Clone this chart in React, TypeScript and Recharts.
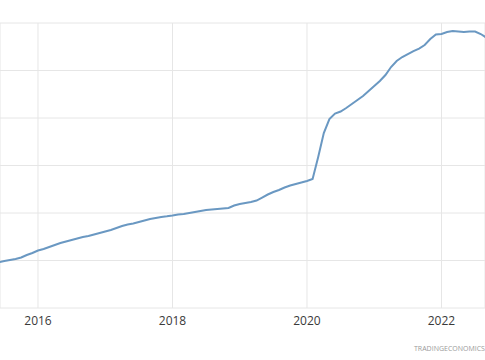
import React from "react";
import { LineChart, Line, XAxis, YAxis, CartesianGrid } from "recharts";

// Monthly series starting June 2015 (arbitrary units)
const startYear = 2015;
const startMonth = 6;
const values: number[] = [
  962, 989, 1011, 1032, 1063, 1116, 1158,
  1210, 1242, 1284, 1326, 1368, 1400, 1432, 1463, 1495, 1516, 1547, 1579,
  1610, 1642, 1684, 1726, 1758, 1779, 1810, 1842, 1874, 1895, 1916, 1930,
  1947, 1968, 1979, 2000, 2021, 2042, 2063, 2074, 2084, 2095, 2105, 2158,
  2189, 2210, 2231, 2263, 2326, 2389, 2442, 2484, 2537, 2579, 2610, 2642,
  2673, 2715, 3179, 3684, 3978, 4094, 4136, 4210, 4294, 4378, 4463, 4568,
  4673, 4778, 4905, 5073, 5199, 5284, 5347, 5410, 5462, 5536, 5662, 5757,
  5768, 5810, 5831, 5820, 5810, 5820, 5820, 5768, 5694,
];
const xTicks = [2016, 2018, 2020, 2022];
const yTicks = [0, 1000, 2000, 3000, 4000, 5000, 6000];

const data = values.map((v, i) => ({
  t: startYear + (startMonth - 1 + i) / 12,
  v,
}));

export default function App() {
  return (
    <div
      style={{
        position: "absolute",
        left: 0,
        top: 0,
        width: 485,
        height: 360,
        overflow: "hidden",
        background: "#fff",
      }}
    >
      <LineChart
        width={485}
        height={360}
        data={data}
        margin={{ top: 23, right: 0, left: 0, bottom: 22 }}
      >
        <CartesianGrid stroke="#e6e6e6" strokeWidth={1} />
        <XAxis
          dataKey="t"
          type="number"
          domain={[2015.435, 2022.647]}
          ticks={xTicks}
          allowDataOverflow
          axisLine={false}
          tickLine={false}
          height={30}
          tick={{ fill: "#3a3a3a", fontSize: 12, fontFamily: "Open Sans" }}
        />
        <YAxis hide width={0} domain={[0, 6000]} ticks={yTicks} allowDataOverflow />
        <Line
          type="linear"
          dataKey="v"
          stroke="#6a98c2"
          strokeWidth={2}
          dot={false}
          isAnimationActive={false}
        />
      </LineChart>
      <div
        style={{
          position: "absolute",
          left: 414,
          top: 344,
          fontSize: 7,
          fontFamily: "Open Sans",
          color: "#9a9a9a",
          whiteSpace: "nowrap",
        }}
      >
        TRADINGECONOMICS.COM
      </div>
    </div>
  );
}
